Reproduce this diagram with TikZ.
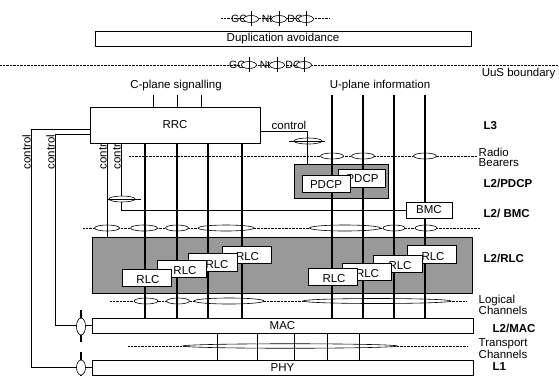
\documentclass[tikz,border=0pt]{standalone}
\usepackage{fontspec}
\setmainfont{Liberation Sans}
\usetikzlibrary{shapes.geometric}
\definecolor{graybg}{RGB}{153,153,153}
\newcommand*\mymainfont{\fontsize{11.5}{12}\selectfont}
\newcommand*\mychanfont{\fontsize{11.5}{10}\selectfont}
\newcommand*\mysmallfont{\fontsize{10.5}{10.5}\selectfont}
\begin{document}
\begin{tikzpicture}[x=1pt,y=-1pt,
  lbl/.style={font=\mymainfont, inner sep=0.5pt},
  sml/.style={font=\mysmallfont, inner sep=0.5pt},
  layer/.style={font=\mymainfont\bfseries, inner sep=0.5pt, anchor=west},
  chan/.style={font=\mychanfont, inner sep=0.5pt, anchor=west, align=left},
  box/.style={draw, fill=white, line width=0.7pt, inner sep=0pt, font=\mymainfont},
  graybox/.style={draw, fill=graybg, line width=0.7pt, inner sep=0pt},
  rlcbox/.style={box, minimum width=49pt, minimum height=17.5pt},
  sap/.style={ellipse, draw, fill=white, line width=0.6pt, inner sep=0pt, minimum height=6pt},
  dline/.style={line width=1pt, dash pattern=on 1pt off 0.4pt},
  data/.style={line width=1.5pt},
  ctrl/.style={line width=0.7pt},
  stub/.style={line width=1pt},
  ctllbl/.style={lbl, rotate=90, anchor=south}
]
\useasboundingbox (0,0) rectangle (559,376);
\fill[white] (0,0) rectangle (559,376);

% ---------- top: GC / Nt / DC ----------
\coordinate (ta) at (221,18);
\coordinate (tb) at (330,18);
\draw[dline] (ta) -- (tb);
\node[sml] (gc1) at (239,19) {GC};
\node[sml] (nt1) at (267,19) {Nt};
\node[sml] (dc1) at (295,19) {DC};
\node[sap, minimum width=15pt, minimum height=7pt] (s1a) at (251,19) {};
\node[sap, minimum width=15pt, minimum height=7pt] (s1b) at (279,19) {};
\node[sap, minimum width=15pt, minimum height=7pt] (s1c) at (306,19) {};
\foreach \n in {s1a,s1b,s1c}{\draw[ctrl] (\n.center) ++(0,-8) -- ++(0,15);}

\node[box, minimum width=376pt, minimum height=15pt] (dup) at (283,38.5) {Duplication avoidance};

\coordinate (ua) at (0,65);
\coordinate (ub) at (559,65);
\draw[dline] (ua) -- (ub);
\node[sml] (gc2) at (237,65) {GC};
\node[sml] (nt2) at (265,65) {Nt};
\node[sml] (dc2) at (293,65) {DC};
\node[sap, minimum width=15pt, minimum height=7pt] (s2a) at (249,65) {};
\node[sap, minimum width=15pt, minimum height=7pt] (s2b) at (277,65) {};
\node[sap, minimum width=15pt, minimum height=7pt] (s2c) at (304,65) {};
\foreach \n in {s2a,s2b,s2c}{\draw[ctrl] (\n.center) ++(0,-8) -- ++(0,15);}
\node[lbl, anchor=east] (uus) at (556,74) {UuS boundary};

\node[lbl] (cpl) at (176,86) {C-plane signalling};
\node[lbl] (upl) at (380,86) {U-plane information};

% ---------- control labels (partly under RRC) ----------
\node[ctllbl] (cl1) at (31.5,152) {control};
\node[ctllbl] (cl2) at (55.5,152) {control};
\node[ctllbl] (cl3) at (107.5,152) {control};
\node[ctllbl] (cl4) at (121.5,152) {control};

% ---------- gray boxes ----------
\node[graybox, minimum width=94pt, minimum height=34pt] (pdcpg) at (341,181) {};
\node[graybox, minimum width=380pt, minimum height=56pt] (rlcg) at (282,265) {};

% ---------- boxes whose edges are used ----------
\path (175,125) node[box, minimum width=170pt, minimum height=36pt] (rrc) {};
\path (282.5,325.5) node[box, minimum width=381pt, minimum height=15pt] (mac) {};
\path (282.5,367.5) node[box, minimum width=381pt, minimum height=15pt] (phy) {};
\path (429,210) node[box, minimum width=46pt, minimum height=16pt] (bmc) {};

% ---------- dotted channel lines ----------
\coordinate (rba) at (129,156);  \coordinate (rbb) at (477,156);
\coordinate (bma) at (83,228);   \coordinate (bmb) at (480,228);
\coordinate (lga) at (110,301);  \coordinate (lgb) at (467,301);
\coordinate (tra) at (128,346);  \coordinate (trb) at (468,346);
\draw[dline] (rba) -- (rbb);
\draw[dline] (bma) -- (bmb);
\draw[dline] (lga) -- (lgb);
\draw[dline] (tra) -- (trb);

% ---------- SAP ellipses ----------
\foreach \x in {332,363,425}{\node[sap, minimum width=23pt] at (\x,156) {};}
\node[sap, minimum width=25pt] (b1) at (107,228) {};
\node[sap, minimum width=27pt] (b2) at (144,228) {};
\node[sap, minimum width=23pt] (b3) at (177,228) {};
\node[sap, minimum width=56pt] (b4) at (226,228) {};
\node[sap, minimum width=71pt] (b5) at (345,228) {};
\node[sap, minimum width=22pt] (b6) at (394,228) {};
\node[sap, minimum width=22pt] (b7) at (426,228) {};
\node[sap, minimum width=24pt] (l1) at (146,301) {};
\node[sap, minimum width=23pt] (l2) at (178,301) {};
\node[sap, minimum width=70pt] (l3) at (229,301) {};
\node[sap, minimum width=148pt, minimum height=5pt] (l4) at (377,301) {};
\node[sap, minimum width=214pt, minimum height=4.5pt] (t1) at (290,346) {};

% ---------- data lines ----------
\foreach \x in {145,177,208,242}{
  \coordinate (v) at (\x,0);
  \draw[data] (v |- rrc.south) -- (v |- mac.north);}
\foreach \x in {332,363,394,425}{
  \coordinate (v) at (\x,95);
  \draw[data] (v) -- (v |- mac.north);}
\foreach \x in {153,177,201}{
  \coordinate (v) at (\x,95);
  \draw[stub] (v) -- (v |- rrc.north);}
\foreach \x in {217,257,294,327,359}{
  \coordinate (v) at (\x,0);
  \draw[stub] (v |- mac.south) -- (v |- phy.north);}

% ---------- control lines ----------
\coordinate (c1) at (31,129);
\coordinate (c2) at (55,134);
\coordinate (c3) at (107,0);
\coordinate (c4) at (121,210);
\coordinate (c5) at (307,131);
\draw[data] (81,310) -- (81,342);
\draw[data] (81,352) -- (81,376);
\draw[ctrl] (rrc.west |- c1) -- (c1) |- (phy.west);
\draw[ctrl] (rrc.west |- c2) -- (c2) |- (mac.west);
\node[sap, minimum width=9pt, minimum height=17pt] (macsap) at (81,326.5) {};
\node[sap, minimum width=9pt, minimum height=15pt] (physap) at (81,367.5) {};
\draw[ctrl] (c3 |- rrc.south) -- (c3 |- rlcg.north);
\draw[ctrl] (c4 |- rrc.south) -- (c4) -- (bmc.west);
\draw[ctrl] (rrc.east |- c5) -- (c5) -- (c5 |- pdcpg.north);
\node[sap, minimum width=26pt] (cs1) at (122,199) {};
\draw[ctrl] (108,199) -- (141,199);
\node[sap, minimum width=28pt] (cs2) at (308,141) {};
\draw[ctrl] (289,141) -- (325,141);
\draw[ctrl] (c5) -- (c5 |- pdcpg.north);
\node[lbl, anchor=south] (ctl5) at (289,130.5) {control};

% ---------- boxes ----------
\node[box, minimum width=47pt, minimum height=18pt, label={[lbl, xshift=1pt, yshift=-1pt]center:PDCP}] (pd2) at (361.5,178) {};
\node[box, minimum width=48pt, minimum height=17pt, label={[lbl, yshift=-1pt]center:PDCP}] (pd1) at (326,184) {};
\node[box, minimum width=46pt, minimum height=16pt] (bmc2) at (bmc) {BMC};

\node[rlcbox, label={[lbl, xshift=1pt, yshift=-2pt]center:RLC}] (r4) at (246.5,255) {};
\node[rlcbox, label={[lbl, xshift=4pt, yshift=-2pt]center:RLC}] (r3) at (213,262.5) {};
\node[rlcbox, label={[lbl, xshift=3pt, yshift=-2pt]center:RLC}] (r2) at (182,269) {};
\node[rlcbox, label={[lbl, xshift=1pt, yshift=-2pt]center:RLC}] (r1) at (147,278) {};
\node[rlcbox, label={[lbl, xshift=1pt, yshift=-2pt]center:RLC}] (r8) at (432,254.5) {};
\node[rlcbox, label={[lbl, xshift=2pt, yshift=-2pt]center:RLC}] (r7) at (398,264) {};
\node[rlcbox, label={[lbl, xshift=1pt, yshift=-2pt]center:RLC}] (r6) at (366.5,272) {};
\node[rlcbox, label={[lbl, xshift=1pt, yshift=-2pt]center:RLC}] (r5) at (333,277) {};

\node[box, minimum width=170pt, minimum height=36pt] (rrc2) at (rrc) {RRC};
\node[box, minimum width=381pt, minimum height=15pt] (mac2) at (mac) {MAC};
\node[box, minimum width=381pt, minimum height=15pt] (phy2) at (phy) {PHY};

% ---------- right labels ----------
\node[layer] (L3) at (483,126) {L3};
\node[chan] (rb) at (478,157) {Radio\\Bearers};
\node[layer] (L2p) at (483,183) {L2/PDCP};
\node[layer] (L2b) at (483,213) {L2/ BMC};
\node[layer] (L2r) at (483,258) {L2/RLC};
\node[chan] (lc) at (478,305) {Logical\\Channels};
\node[layer] (L2m) at (492,328) {L2/MAC};
\node[chan] (tc) at (478,348.5) {Transport\\Channels};
\node[layer] (L1) at (492,367) {L1};
\end{tikzpicture}
\end{document}
